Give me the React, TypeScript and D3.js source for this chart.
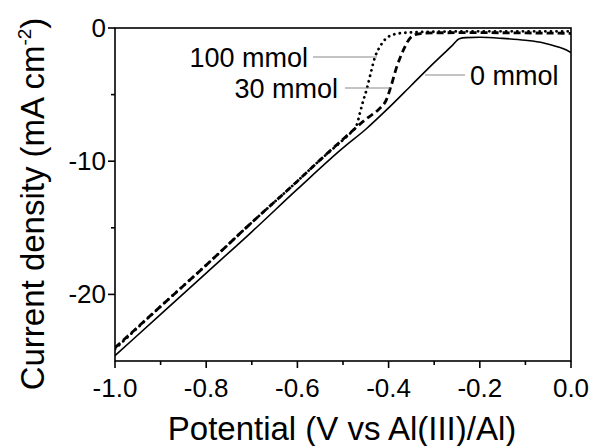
import React from "react";
import * as d3 from "d3";

const potential0 = [-1.0, -0.9, -0.8, -0.7, -0.6, -0.5, -0.45, -0.4, -0.35, -0.3, -0.26, -0.245, -0.23, -0.2, -0.15, -0.1, -0.06, -0.03, -0.01, 0];
const current0 = [-24.6, -21.5, -18.4, -15.3, -12.1, -9.0, -7.6, -6.0, -4.3, -2.6, -1.3, -0.8, -0.72, -0.7, -0.78, -0.92, -1.12, -1.4, -1.65, -1.85];

const potential30 = [-1.0, -0.9, -0.8, -0.7, -0.6, -0.55, -0.5, -0.45, -0.42, -0.405, -0.395, -0.382, -0.372, -0.364, -0.355, -0.345, -0.33, -0.3, -0.2, -0.1, 0];
const current30 = [-24.0, -20.9, -17.8, -14.6, -11.5, -9.9, -8.35, -6.85, -6.05, -5.4, -4.4, -2.9, -2.0, -1.4, -0.85, -0.55, -0.42, -0.36, -0.35, -0.37, -0.4];

const potential100 = [-1.0, -0.9, -0.8, -0.7, -0.6, -0.55, -0.5, -0.48, -0.47, -0.463, -0.456, -0.448, -0.44, -0.43, -0.419, -0.41, -0.4, -0.385, -0.36, -0.3, -0.2, -0.1, 0];
const current100 = [-24.1, -20.9, -17.8, -14.6, -11.5, -9.9, -8.4, -7.75, -7.3, -6.4, -5.5, -4.6, -3.5, -2.2, -1.4, -0.95, -0.65, -0.45, -0.35, -0.28, -0.25, -0.25, -0.25];

const xMajorTicks = [-1.0, -0.8, -0.6, -0.4, -0.2, 0.0];
const xMinorTicks = [-0.9, -0.7, -0.5, -0.3, -0.1];
const yMajorTicks = [0, -10, -20];
const yMinorTicks = [-5, -15];

const seriesLabels = ["100 mmol", "30 mmol", "0 mmol"];

export default function App() {
  const W = 593, H = 446;
  const left = 115, right = 571, top = 28, bottom = 361;
  const x = d3.scaleLinear().domain([-1, 0]).range([left, right]);
  const y = d3.scaleLinear().domain([-25, 0]).range([bottom, top]);
  const line = d3.line<[number, number]>().x(d => x(d[0])).y(d => y(d[1])).curve(d3.curveMonotoneX);
  const mk = (p: number[], c: number[]) => p.map((v, i) => [v, c[i]] as [number, number]);
  const font = "'Liberation Sans', Arial, sans-serif";

  return (
    <svg width={W} height={H} style={{ position: "absolute", left: 0, top: 0, background: "#fff" }} fontFamily={font}>
      <defs>
        <clipPath id="plot">
          <rect x={left} y={top} width={right - left} height={bottom - top} />
        </clipPath>
      </defs>
      <rect x={0} y={0} width={W} height={H} fill="#fff" />
      <g clipPath="url(#plot)" fill="none">
        <path d={line(mk(potential0, current0)) || ""} stroke="#000" strokeWidth={1.6} />
        <path d={line(mk(potential30, current30)) || ""} stroke="#000" strokeWidth={2.8} strokeDasharray="7,4" />
        <path d={line(mk(potential100, current100)) || ""} stroke="#000" strokeWidth={2.8} strokeDasharray="0.1,5.5" strokeLinecap="round" />
      </g>
      <rect x={left} y={top} width={right - left} height={bottom - top} fill="none" stroke="#000" strokeWidth={1.6} />
      {xMajorTicks.map(t => (
        <g key={"xm" + t}>
          <line x1={x(t)} x2={x(t)} y1={bottom} y2={bottom + 7} stroke="#000" strokeWidth={1.6} />
          <text x={x(t)} y={bottom + 36} fontSize={26} textAnchor="middle">{t.toFixed(1)}</text>
        </g>
      ))}
      {xMinorTicks.map(t => (
        <line key={"xn" + t} x1={x(t)} x2={x(t)} y1={bottom} y2={bottom + 4} stroke="#000" strokeWidth={1.6} />
      ))}
      {yMajorTicks.map(t => (
        <g key={"ym" + t}>
          <line x1={left - 7} x2={left} y1={y(t)} y2={y(t)} stroke="#000" strokeWidth={1.6} />
          <text x={left - 9} y={y(t) + 9} fontSize={26} textAnchor="end">{t}</text>
        </g>
      ))}
      {yMinorTicks.map(t => (
        <line key={"yn" + t} x1={left - 4} x2={left} y1={y(t)} y2={y(t)} stroke="#000" strokeWidth={1.6} />
      ))}
      <text x={342} y={440} fontSize={33} textAnchor="middle">Potential (V vs Al(III)/Al)</text>
      <text transform={`translate(44, 204) rotate(-90)`} fontSize={33} textAnchor="middle">
        Current density (mA cm<tspan fontSize={19} dy={-13}>-2</tspan><tspan dy={13}>)</tspan>
      </text>
      <line x1={313} x2={377} y1={57} y2={57} stroke="#888" strokeWidth={1} />
      <text x={308} y={66.5} fontSize={27} textAnchor="end">{seriesLabels[0]}</text>
      <line x1={345} x2={390} y1={88} y2={88} stroke="#888" strokeWidth={1} />
      <text x={338} y={98} fontSize={27} textAnchor="end">{seriesLabels[1]}</text>
      <line x1={425} x2={465} y1={75} y2={75} stroke="#888" strokeWidth={1} />
      <text x={470} y={85} fontSize={27} textAnchor="start">{seriesLabels[2]}</text>
    </svg>
  );
}
